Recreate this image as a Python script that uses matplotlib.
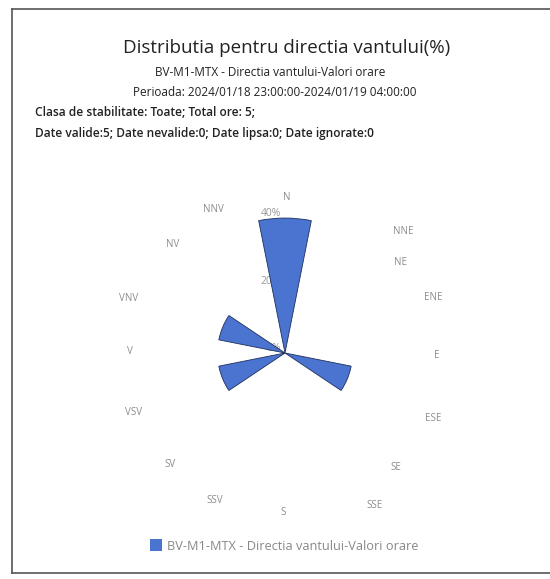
import numpy as np
import matplotlib
matplotlib.use("Agg")
import matplotlib.pyplot as plt
from matplotlib.patches import Rectangle
from matplotlib.lines import Line2D

# ---- data ----
directions = ["N", "NNE", "NE", "ENE", "E", "ESE", "SE", "SSE",
              "S", "SSV", "SV", "VSV", "V", "VNV", "NV", "NNV"]
frequency = [40, 0, 0, 0, 0, 20, 0, 0, 0, 0, 0, 20, 0, 20, 0, 0]
radial_ticks = [0, 20, 40]
radial_labels = ["0%", "20%", "40%"]
title = "Distributia pentru directia vantului(%)"
subtitle1 = "BV-M1-MTX - Directia vantului-Valori orare"
subtitle2 = "Perioada: 2024/01/18 23:00:00-2024/01/19 04:00:00"
info1 = "Clasa de stabilitate: Toate; Total ore: 5;"
info2 = "Date valide:5; Date nevalide:0; Date lipsa:0; Date ignorate:0"
series_name = "BV-M1-MTX - Directia vantului-Valori orare"

# ---- layout (label placement as seen in the reference) ----
label_bearing = [0.7, 44.3, 51.9, 69.6, 91, 114, 136, 149.5,
                 180.7, 205.5, 225.8, 248.5, 270.4, 289.3, 314, 333.6]
label_radius_px = [156, 170, 147, 158, 152, 162, 159, 177,
                   160, 163, 160, 163, 155, 166, 156, 160]

plt.rcParams['font.family'] = ['Open Sans', 'DejaVu Sans']
W, H = 550, 579
fig = plt.figure(figsize=(W / 100, H / 100), dpi=100)

cx, cy, R = 285, 353, 140
RMAX = 41.5
ax = fig.add_axes([(cx - R) / W, (H - cy - R) / H, 2 * R / W, 2 * R / H],
                  projection='polar')
ax.set_theta_zero_location('N')
ax.set_theta_direction(-1)
ax.set_ylim(0, RMAX)
ax.grid(False)
ax.spines['polar'].set_visible(False)
ax.set_xticks([])
ax.set_yticks([])
ax.patch.set_alpha(0)

n = len(directions)
theta = np.deg2rad(np.arange(n) * 360.0 / n)
width = np.deg2rad(360.0 / n)

# radial labels (drawn below bars)
gray = '#9a9a9a'
for r, lab in zip(radial_ticks, radial_labels):
    ax.annotate(lab, xy=(0, r), xytext=(-3, 3), textcoords='offset points',
                ha='right', va='center', fontsize=7.5, color=gray, zorder=1,
                annotation_clip=False)

ax.bar(theta, frequency, width=width, bottom=0, color='#4a74cf',
       edgecolor='#1f2f5c', linewidth=0.6, zorder=3)

for lab, b, rp in zip(directions, label_bearing, label_radius_px):
    ax.text(np.deg2rad(b), rp / R * RMAX, lab, ha='center', va='center',
            fontsize=7, color='#8c8c8c', clip_on=False)

# titles
fig.text(287 / W, 1 - 48 / H, title, ha='center', va='center', fontsize=13.5,
         color='#222222')
fig.text(270 / W, 1 - 72 / H, subtitle1, ha='center', va='center', fontsize=8.5,
         color='#222222')
fig.text(275 / W, 1 - 93 / H, subtitle2, ha='center', va='center', fontsize=8.5,
         color='#222222')
fig.text(35 / W, 1 - 112 / H, info1, ha='left', va='center', fontsize=8.6,
         fontweight='semibold', color='#222222')
fig.text(35 / W, 1 - 134 / H, info2, ha='left', va='center', fontsize=8.6,
         fontweight='semibold', color='#222222')

# legend
fig.patches.append(Rectangle((150 / W, 1 - 551 / H), 12 / W, 12 / H,
                             transform=fig.transFigure, facecolor='#4a74cf',
                             edgecolor='none'))
fig.text(167 / W, 1 - 546 / H, series_name, ha='left', va='center', fontsize=9.2,
         color='#888888')

# frame
fc = '#555555'
fig.add_artist(Line2D([12 / W, 1.0], [1 - 9 / H, 1 - 9 / H], color=fc, lw=1.2,
                      transform=fig.transFigure))
fig.add_artist(Line2D([12 / W, 12 / W], [1 - 9 / H, 1 - 573 / H], color=fc, lw=1.2,
                      transform=fig.transFigure))
fig.add_artist(Line2D([12 / W, 1.0], [1 - 573 / H, 1 - 573 / H], color=fc, lw=1.2,
                      transform=fig.transFigure))

fig.savefig('out.png', dpi=100)
